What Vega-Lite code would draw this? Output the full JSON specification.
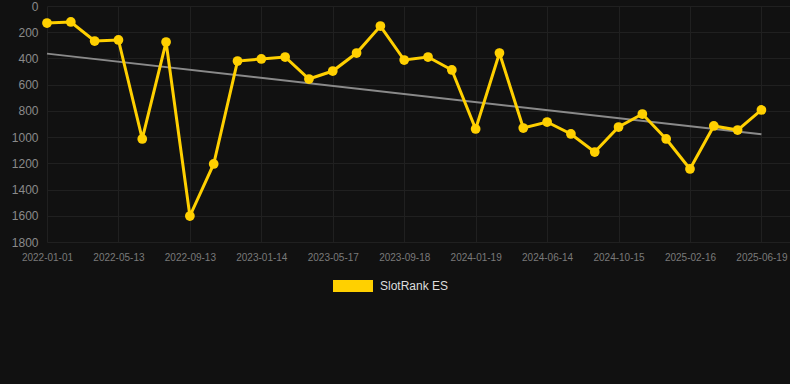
{
  "$schema": "https://vega.github.io/schema/vega-lite/v6.json",
  "width": 743,
  "height": 236,
  "autosize": "none",
  "padding": {"left": 47, "top": 6, "right": 0, "bottom": 142},
  "background": "#111111",
  "config": {
    "view": {"stroke": null},
    "font": "Liberation Sans",
    "axis": {"gridColor": "#202020", "gridWidth": 1, "domain": false, "ticks": false}
  },
  "data": {
    "values": [
      {"i": 0, "date": "2022-01-01", "rank": 130, "series": "SlotRank ES"},
      {"i": 1, "date": "2022-02-14", "rank": 122, "series": "SlotRank ES"},
      {"i": 2, "date": "2022-03-30", "rank": 267, "series": "SlotRank ES"},
      {"i": 3, "date": "2022-05-13", "rank": 259, "series": "SlotRank ES"},
      {"i": 4, "date": "2022-06-23", "rank": 1014, "series": "SlotRank ES"},
      {"i": 5, "date": "2022-08-03", "rank": 275, "series": "SlotRank ES"},
      {"i": 6, "date": "2022-09-13", "rank": 1602, "series": "SlotRank ES"},
      {"i": 7, "date": "2022-10-24", "rank": 1205, "series": "SlotRank ES"},
      {"i": 8, "date": "2022-12-04", "rank": 420, "series": "SlotRank ES"},
      {"i": 9, "date": "2023-01-14", "rank": 404, "series": "SlotRank ES"},
      {"i": 10, "date": "2023-02-24", "rank": 389, "series": "SlotRank ES"},
      {"i": 11, "date": "2023-04-06", "rank": 557, "series": "SlotRank ES"},
      {"i": 12, "date": "2023-05-17", "rank": 496, "series": "SlotRank ES"},
      {"i": 13, "date": "2023-06-27", "rank": 359, "series": "SlotRank ES"},
      {"i": 14, "date": "2023-08-07", "rank": 153, "series": "SlotRank ES"},
      {"i": 15, "date": "2023-09-18", "rank": 412, "series": "SlotRank ES"},
      {"i": 16, "date": "2023-10-29", "rank": 389, "series": "SlotRank ES"},
      {"i": 17, "date": "2023-12-09", "rank": 488, "series": "SlotRank ES"},
      {"i": 18, "date": "2024-01-19", "rank": 938, "series": "SlotRank ES"},
      {"i": 19, "date": "2024-03-07", "rank": 359, "series": "SlotRank ES"},
      {"i": 20, "date": "2024-04-26", "rank": 931, "series": "SlotRank ES"},
      {"i": 21, "date": "2024-06-14", "rank": 885, "series": "SlotRank ES"},
      {"i": 22, "date": "2024-07-25", "rank": 976, "series": "SlotRank ES"},
      {"i": 23, "date": "2024-09-04", "rank": 1114, "series": "SlotRank ES"},
      {"i": 24, "date": "2024-10-15", "rank": 923, "series": "SlotRank ES"},
      {"i": 25, "date": "2024-11-25", "rank": 824, "series": "SlotRank ES"},
      {"i": 26, "date": "2025-01-06", "rank": 1014, "series": "SlotRank ES"},
      {"i": 27, "date": "2025-02-16", "rank": 1243, "series": "SlotRank ES"},
      {"i": 28, "date": "2025-03-29", "rank": 915, "series": "SlotRank ES"},
      {"i": 29, "date": "2025-05-09", "rank": 946, "series": "SlotRank ES"},
      {"i": 30, "date": "2025-06-19", "rank": 793, "series": "SlotRank ES"}
    ]
  },
  "encoding": {
    "x": {
      "field": "i",
      "type": "quantitative",
      "scale": {"domain": [0, 31.2], "nice": false, "zero": false},
      "axis": {
        "title": null,
        "values": [0, 3, 6, 9, 12, 15, 18, 21, 24, 27, 30],
        "labelExpr": "['2022-01-01','2022-05-13','2022-09-13','2023-01-14','2023-05-17','2023-09-18','2024-01-19','2024-06-14','2024-10-15','2025-02-16','2025-06-19'][round(datum.value/3)]",
        "labelColor": "#7a7a7a",
        "labelFontSize": 10,
        "labelPadding": 10,
        "labelFlush": false,
        "labelOverlap": false
      }
    },
    "y": {
      "field": "rank",
      "type": "quantitative",
      "scale": {"domain": [0, 1800], "reverse": true, "nice": false},
      "axis": {
        "title": null,
        "format": "d",
        "values": [0, 200, 400, 600, 800, 1000, 1200, 1400, 1600, 1800],
        "labelColor": "#8a8a8a",
        "labelFontSize": 12,
        "labelPadding": 9
      }
    }
  },
  "layer": [
    {
      "transform": [{"regression": "rank", "on": "i"}],
      "mark": {"type": "line", "color": "#8a8a8a", "strokeWidth": 2}
    },
    {
      "mark": {"type": "line", "color": "#FFD000", "strokeWidth": 3}
    },
    {
      "mark": {"type": "point", "filled": true, "opacity": 1, "size": 95},
      "encoding": {
        "color": {
          "field": "series",
          "type": "nominal",
          "scale": {"range": ["#FFD000"]},
          "legend": {
            "title": null,
            "orient": "none",
            "legendX": 286,
            "legendY": 260,
            "symbolType": "M-1,-0.3H1V0.3H-1Z",
            "symbolSize": 1600,
            "symbolStrokeWidth": 0,
            "symbolOpacity": 1,
            "labelColor": "#dddddd",
            "labelFontSize": 12,
            "labelOffset": 7
          }
        }
      }
    }
  ]
}
